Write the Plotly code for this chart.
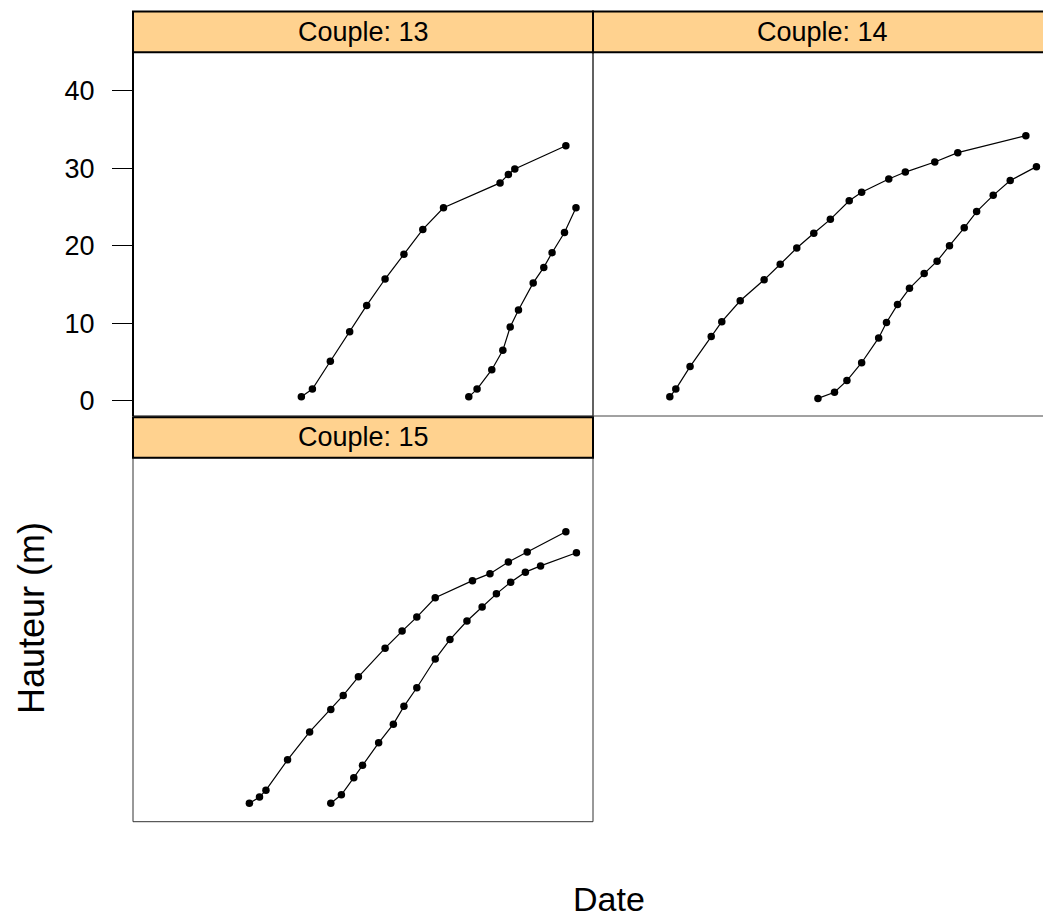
import plotly.graph_objects as go

# ---- data (x: date in relative units, y: height in m) ----
couples = ["13", "14", "15"]

c13_a_date = [36.6, 39.0, 42.9, 47.1, 50.8, 54.8, 58.9, 63.0, 67.5, 79.8, 81.6, 83.0, 94.1]
c13_a_haut = [0.5, 1.5, 5.1, 8.9, 12.3, 15.7, 18.9, 22.1, 24.9, 28.1, 29.2, 29.9, 32.9]
c13_b_date = [73.0, 74.8, 78.0, 80.4, 82.0, 83.8, 87.0, 89.3, 91.1, 93.8, 96.3]
c13_b_haut = [0.5, 1.5, 4.0, 6.5, 9.5, 11.7, 15.2, 17.2, 19.1, 21.7, 24.9]

c14_a_date = [16.7, 18.0, 21.1, 25.7, 28.0, 32.0, 37.2, 40.7, 44.3, 48.0, 51.6, 55.7, 58.4, 64.3, 67.9, 74.3, 79.3, 94.1]
c14_a_haut = [0.5, 1.5, 4.4, 8.3, 10.2, 12.9, 15.6, 17.6, 19.7, 21.6, 23.4, 25.8, 26.9, 28.6, 29.5, 30.8, 32.0, 34.2]
c14_b_date = [48.9, 52.5, 55.2, 58.4, 62.1, 63.8, 66.2, 68.8, 72.0, 74.8, 77.5, 80.7, 83.4, 87.0, 90.7, 96.4]
c14_b_haut = [0.3, 1.1, 2.6, 4.9, 8.1, 10.1, 12.4, 14.5, 16.4, 18.0, 20.0, 22.3, 24.4, 26.5, 28.4, 30.2]

c15_a_date = [25.3, 27.5, 28.9, 33.6, 38.4, 43.0, 45.7, 49.0, 54.8, 58.5, 61.7, 65.7, 73.8, 77.6, 81.6, 85.7, 94.1]
c15_a_haut = [0.4, 1.2, 2.1, 6.0, 9.6, 12.5, 14.3, 16.7, 20.4, 22.6, 24.4, 26.9, 29.1, 30.0, 31.5, 32.8, 35.4]
c15_b_date = [43.0, 45.3, 48.0, 49.9, 53.4, 56.6, 58.9, 61.7, 65.7, 68.9, 72.6, 75.9, 79.0, 82.1, 85.3, 88.6, 96.4]
c15_b_haut = [0.4, 1.5, 3.7, 5.3, 8.2, 10.6, 12.9, 15.3, 19.0, 21.5, 23.9, 25.7, 27.4, 28.9, 30.2, 31.0, 32.7]

y_ticks = [0, 10, 20, 30, 40]

# ---- layout geometry (pixels) ----
W, H = 1043, 918
def px(x):
    return x / W
def py(y):
    return 1 - y / H

col1 = [px(133), px(593)]
col2 = [px(593), 1.0]
row1 = [py(416), py(52.3)]
row2 = [py(821.7), py(457.7)]
strip1 = [py(52.3), py(11.5)]
strip2 = [py(457.7), py(417.3)]

FONT = "Liberation Sans, Arial, sans-serif"
line_style = dict(color="black", width=1.2)
marker_style = dict(color="black", size=7.5)

fig = go.Figure()

def add_series(xs, ys, xa, ya):
    fig.add_trace(go.Scatter(x=xs, y=ys, mode="lines+markers", line=line_style,
                             marker=marker_style, xaxis=xa, yaxis=ya,
                             showlegend=False, hoverinfo="x+y"))

add_series(c13_a_date, c13_a_haut, "x", "y")
add_series(c13_b_date, c13_b_haut, "x", "y")
add_series(c14_a_date, c14_a_haut, "x2", "y2")
add_series(c14_b_date, c14_b_haut, "x2", "y2")
add_series(c15_a_date, c15_a_haut, "x3", "y3")
add_series(c15_b_date, c15_b_haut, "x3", "y3")

yrange = [-1.97, 44.95]
xr1 = [0, 100]
xr2 = [0, 450 / 4.6]

hidden_x = dict(showticklabels=False, ticks="", showgrid=False, zeroline=False, showline=False)
hidden_y = dict(showticklabels=False, ticks="", showgrid=False, zeroline=False, showline=False, range=yrange)

fig.update_layout(
    width=W, height=H,
    margin=dict(l=0, r=0, t=0, b=0),
    paper_bgcolor="white", plot_bgcolor="white",
    font=dict(family=FONT, color="black"),
    xaxis=dict(domain=col1, range=xr1, anchor="y", **hidden_x),
    yaxis=dict(domain=row1, range=yrange, anchor="x", showgrid=False, zeroline=False,
               showline=False, tickvals=y_ticks, ticks="outside", ticklen=20,
               tickwidth=1, tickcolor="black", tickfont=dict(size=27, family=FONT),
               ticklabelstandoff=12),
    xaxis2=dict(domain=col2, range=xr2, anchor="y2", **hidden_x),
    yaxis2=dict(domain=row1, anchor="x2", **hidden_y),
    xaxis3=dict(domain=col1, range=xr1, anchor="y3", **hidden_x),
    yaxis3=dict(domain=row2, anchor="x3", **hidden_y),
)

shapes = []
STRIP = "#FFD28F"
# strips
shapes.append(dict(type="rect", xref="paper", yref="paper", x0=col1[0], x1=col1[1],
                   y0=strip1[0], y1=strip1[1], fillcolor=STRIP, line=dict(color="black", width=2)))
shapes.append(dict(type="rect", xref="paper", yref="paper", x0=col2[0], x1=px(1060),
                   y0=strip1[0], y1=strip1[1], fillcolor=STRIP, line=dict(color="black", width=2)))
shapes.append(dict(type="rect", xref="paper", yref="paper", x0=col1[0], x1=col1[1],
                   y0=strip2[0], y1=strip2[1], fillcolor=STRIP, line=dict(color="black", width=2)))
# panel frames
shapes.append(dict(type="rect", xref="paper", yref="paper", x0=col1[0], x1=col1[1],
                   y0=row1[0], y1=row1[1], line=dict(color="black", width=1), layer="below"))
shapes.append(dict(type="line", xref="paper", yref="paper", x0=col1[0], x1=col1[0],
                   y0=row1[0], y1=row1[1], line=dict(color="black", width=2)))
shapes.append(dict(type="rect", xref="paper", yref="paper", x0=col2[0], x1=px(1060),
                   y0=row1[0], y1=row1[1], line=dict(color="#444444", width=1), layer="below"))
shapes.append(dict(type="rect", xref="paper", yref="paper", x0=col1[0], x1=col1[1],
                   y0=row2[0], y1=row2[1], line=dict(color="#333333", width=1), layer="below"))
fig.update_layout(shapes=shapes)

annotations = []
for c, xd, yd in [(couples[0], col1, strip1), (couples[1], [col2[0], px(1053)], strip1), (couples[2], col1, strip2)]:
    annotations.append(dict(text=f"Couple: {c}", xref="paper", yref="paper",
                            x=(xd[0] + xd[1]) / 2, y=(yd[0] + yd[1]) / 2,
                            xanchor="center", yanchor="middle", showarrow=False,
                            font=dict(size=27, family=FONT, color="black")))
annotations.append(dict(text="Hauteur (m)", xref="paper", yref="paper", x=px(31), y=py(618),
                        xanchor="center", yanchor="middle", textangle=-90, showarrow=False,
                        font=dict(size=36, family=FONT, color="black")))
annotations.append(dict(text="Date", xref="paper", yref="paper", x=px(609), y=py(899),
                        xanchor="center", yanchor="middle", showarrow=False,
                        font=dict(size=34, family=FONT, color="black")))
fig.update_layout(annotations=annotations)

fig.write_html("out.html", config={"displayModeBar": False},
               post_script="document.body.style.margin='0';")
